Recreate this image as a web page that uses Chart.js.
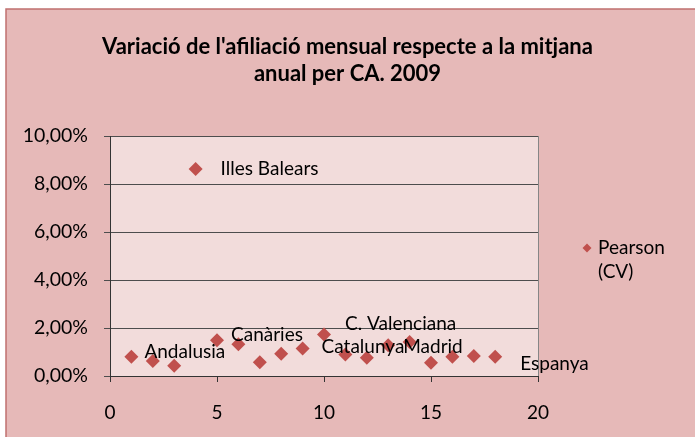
<!DOCTYPE html>
<html>
<head>
<meta charset="utf-8">
<script src="https://cdn.jsdelivr.net/npm/chart.js@4/dist/chart.umd.min.js"></script>
<style>
html,body{margin:0;padding:0;background:#ffffff;}
#c{display:block;}
</style>
</head>
<body>
<canvas id="c" width="695" height="437"></canvas>
<script>
// ---- data ----
const xValues = [1, 2, 3, 4, 5, 6, 7, 8, 9, 10, 11, 12, 13, 14, 15, 16, 17, 18];
const cvValues = [0.0080, 0.0063, 0.0043, 0.0862, 0.0149, 0.0132, 0.0057, 0.0093, 0.0115,
                  0.0173, 0.0090, 0.0076, 0.0128, 0.0142, 0.0055, 0.0080, 0.0083, 0.0080];
const pointNames = ['Andalusia', '', '', 'Illes Balears', 'Canàries', '', '', '', 'Catalunya',
                    'C. Valenciana', '', '', 'Madrid', '', '', '', '', 'Espanya'];
const xTicks = [0, 5, 10, 15, 20];
const yTicks = [0, 0.02, 0.04, 0.06, 0.08, 0.10];
const seriesName = 'Pearson (CV)';
const titleLines = ["Variació de l'afiliació mensual respecte a la mitjana", "anual per CA. 2009"];

// ---- styles ----
const FONT = 'Lato, "Open Sans", sans-serif';
const RED = '#C0504D';
// manual label placement (pixel offsets from the marker, text left-middle)
const labelOffsets = {
  0: [13, -5], 3: [25, 0], 4: [14, -5], 8: [19, -2], 9: [21, -11], 12: [15, 2], 17: [25, 7]
};

const decorPlugin = {
  id: 'decor',
  beforeDraw(chart) {
    const ctx = chart.ctx, a = chart.chartArea;
    ctx.save();
    ctx.fillStyle = '#ffffff';
    ctx.fillRect(0, 0, chart.width, chart.height);
    ctx.fillStyle = '#E6B9B8';
    ctx.fillRect(6, 9, chart.width - 6, chart.height - 9);
    ctx.strokeStyle = '#C0706F';
    ctx.lineWidth = 1.5;
    ctx.beginPath();
    ctx.moveTo(6, chart.height); ctx.lineTo(6, 9); ctx.lineTo(chart.width, 9);
    ctx.stroke();
    ctx.fillStyle = '#F2DCDB';
    ctx.fillRect(a.left, a.top, a.right - a.left, a.bottom - a.top);
    ctx.strokeStyle = '#868686';
    ctx.lineWidth = 1;
    ctx.strokeRect(Math.round(a.left) + 0.5, Math.round(a.top) + 0.5, Math.round(a.right - a.left), Math.round(a.bottom - a.top));
    // title
    ctx.fillStyle = '#000';
    ctx.font = 'bold 22px ' + FONT;
    ctx.textAlign = 'center';
    ctx.textBaseline = 'middle';
    const ty = [47, 74];
    titleLines.forEach((t, i) => ctx.fillText(t, chart.width / 2, ty[i]));
    ctx.restore();
  },
  afterDatasetsDraw(chart) {
    const ctx = chart.ctx;
    const meta = chart.getDatasetMeta(0);
    ctx.save();
    ctx.fillStyle = '#000';
    ctx.font = '19px ' + FONT;
    ctx.textAlign = 'left';
    ctx.textBaseline = 'middle';
    meta.data.forEach((pt, i) => {
      const name = pointNames[i];
      if (!name) return;
      const off = labelOffsets[i] || [12, 0];
      ctx.fillText(name, pt.x + off[0], pt.y + off[1]);
    });
    // legend
    const ds = chart.data.datasets[0];
    const lines = ds.label.split(' ');
    const lx = 587, ly = 248;
    ctx.fillStyle = RED;
    ctx.beginPath();
    ctx.moveTo(lx - 4.5, ly); ctx.lineTo(lx, ly - 4.5); ctx.lineTo(lx + 4.5, ly); ctx.lineTo(lx, ly + 4.5);
    ctx.closePath(); ctx.fill();
    ctx.fillStyle = '#000';
    lines.forEach((t, i) => ctx.fillText(t, 598, ly + i * 24));
    ctx.restore();
  }
};

new Chart(document.getElementById('c'), {
  type: 'scatter',
  data: {
    datasets: [{
      label: seriesName,
      data: xValues.map((x, i) => ({x: x, y: cvValues[i]})),
      pointStyle: 'rectRot',
      pointRadius: 7,
      pointHoverRadius: 7,
      backgroundColor: RED,
      borderColor: RED,
      borderWidth: 0
    }]
  },
  options: {
    responsive: false,
    animation: false,
    devicePixelRatio: 1,
    layout: { padding: { top: 136, left: 5, right: 157, bottom: 0 } },
    plugins: { legend: { display: false }, title: { display: false }, tooltip: { enabled: false } },
    scales: {
      x: {
        type: 'linear', min: 0, max: 20,
        afterBuildTicks: s => { s.ticks = xTicks.map(v => ({value: v})); },
        afterFit: s => { s.height = 61; },
        ticks: { color: '#000', font: { family: FONT, size: 19 }, padding: 19, maxRotation: 0 },
        grid: { display: true, drawOnChartArea: false, drawTicks: true, tickLength: 6, color: '#333' },
        border: { color: '#333', width: 1 }
      },
      y: {
        min: 0, max: 0.1,
        afterBuildTicks: s => { s.ticks = yTicks.map(v => ({value: v})); },
        afterFit: s => { s.width = 105; },
        ticks: {
          color: '#000', font: { family: FONT, size: 19.5 }, padding: 16,
          callback: v => (v * 100).toFixed(2).replace('.', ',') + '%'
        },
        grid: { color: '#4d4d4d', tickLength: 6, drawTicks: true },
        border: { color: '#333', width: 1 }
      }
    }
  },
  plugins: [decorPlugin]
});
</script>
</body>
</html>
